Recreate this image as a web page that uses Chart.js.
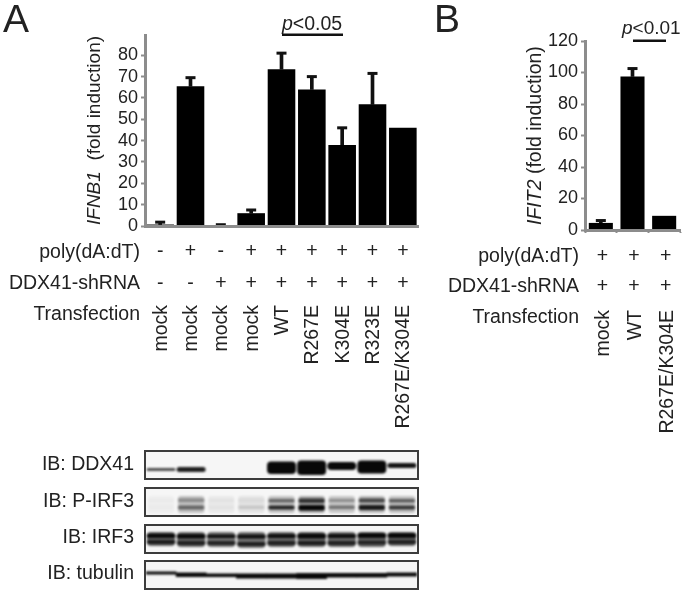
<!DOCTYPE html>
<html><head><meta charset="utf-8">
<style>
html,body{margin:0;padding:0;background:#fff;width:685px;height:594px;overflow:hidden}
canvas{position:absolute;display:block}
.main{filter:blur(0.4px)}
.box{position:absolute;left:144px;width:271px;height:26px;border:2px solid #3c3c3c;background:#f6f6f6;overflow:hidden}
.box canvas{left:0;top:0;filter:blur(1.1px)}
</style>
<script src="https://cdn.jsdelivr.net/npm/chart.js@4"></script>
</head><body>
<canvas id="ca" class="main" width="430" height="440" style="left:0;top:0"></canvas>
<canvas id="cb" class="main" width="255" height="440" style="left:430px;top:0"></canvas>
<canvas id="cl" class="main" width="144" height="150" style="left:0;top:444px"></canvas>
<div class="box" style="top:450px"><canvas id="b0" width="271" height="26"></canvas></div>
<div class="box" style="top:487px"><canvas id="b1" width="271" height="26"></canvas></div>
<div class="box" style="top:524px"><canvas id="b2" width="271" height="26"></canvas></div>
<div class="box" style="top:560px"><canvas id="b3" width="271" height="26"></canvas></div>
<script>
const FONT='"Liberation Sans", Arial, sans-serif';
const INK='#222222', AXIS='#8c8c8c';

// Panel A
const catsA=['mock','mock','mock','mock','WT','R267E','K304E','R323E','R267E/K304E'];
const valsA=[0.7,65.5,0.2,6,73.5,64,38,57,46];
const errA=[1.8,69.5,0.6,7.5,81,70,46,71.5,null];
const polyA=['-','+','-','+','+','+','+','+','+'];
const shA=['-','-','+','+','+','+','+','+','+'];
// Panel B
const catsB=['mock','WT','R267E/K304E'];
const valsB=[4.5,97.5,9];
const errB=[6,102.5,null];
const polyB=['+','+','+'];
const shB=['+','+','+'];
// Blots: lane values. y = depth in the membrane box, level = band darkness
const lanes=['1','2','3','4','5','6','7','8','9'];
const ddxTop=[16,15,0,0,9.5,8.5,10,8.5,11];
const ddxBot=[19,20,0,0,22,23,18,21.5,16];
const ddxLevel=[0.7,0.9,0,0,1,1,1,1,0.95];
const pSmearTop=[7,7,7,7,7,7,7,7,7];
const pSmearBot=[24,24,24,24,24,24,24,24,24];
const pSmearLevel=[0.03,0.22,0.05,0.08,0.22,0.3,0.2,0.25,0.22];
const pUpTop=[10,9.5,10,10,10,9.5,10,9.5,10];
const pUpBot=[13,13,13,13,13.5,14,13,13.5,13.5];
const pUpLevel=[0.02,0.3,0.03,0.05,0.5,0.75,0.3,0.65,0.55];
const pLoTop=[16.5,16.5,16.5,16.5,16.5,16,16.5,16,16.5];
const pLoBot=[20,20.5,20,20,20.5,21.5,20,21,20.5];
const pLoLevel=[0.02,0.5,0.03,0.13,0.85,1,0.45,0.9,0.75];
const iSmearTop=[6,6,6,6,6,6,6,6,6];
const iSmearBot=[20,21,21,22,21,21,21,21,20];
const iSmearLevel=[0.6,0.6,0.55,0.55,0.6,0.6,0.6,0.6,0.6];
const iUpTop=[7.5,8,8.5,8.5,8,7.5,8,7,7];
const iUpBot=[12,12.5,12,12.5,12,12.5,12,12,12];
const iUpLevel=[1,1,0.95,0.95,0.95,1,0.95,1,1];
const iLoTop=[14,15,15,16,15,15,15,14.5,14];
const iLoBot=[18,19,19,20,19,19,19,18.5,18];
const iLoLevel=[0.8,0.75,0.75,0.8,0.75,0.8,0.75,0.75,0.75];
const tubTop=[9.5,10.5,11.5,11.5,11.5,11,11,11,10.5];
const tubBot=[12.5,15,15,16.5,16.5,17,15.5,15.5,14.5];
const tubLevel=[1,1,1,1,1,1,1,1,1];

function txt(ctx,s,x,y,font,align,rot){
  ctx.save();ctx.fillStyle=INK;ctx.font=font;ctx.textAlign=align||'left';ctx.textBaseline='middle';
  ctx.translate(x,y);if(rot)ctx.rotate(rot);ctx.fillText(s,0,0);ctx.restore();
}
function mixed(ctx,x,y,parts,size,rot){
  ctx.save();ctx.fillStyle=INK;ctx.textBaseline='middle';ctx.textAlign='left';ctx.translate(x,y);if(rot)ctx.rotate(rot);
  let dx=0;for(const [s,it] of parts){ctx.font=(it?'italic ':'')+size+'px '+FONT;ctx.fillText(s,dx,0);dx+=ctx.measureText(s).width;}
  ctx.restore();
}
function panelChart(id,cats,vals,errs,o){
  return new Chart(document.getElementById(id),{
    type:'bar',
    data:{labels:cats,datasets:[
      {type:'line',data:errs,showLine:false,pointStyle:'line',pointRadius:o.cap,pointBorderWidth:3,pointBorderColor:'#111',pointBackgroundColor:'#111',order:0,clip:false},
      {data:vals,backgroundColor:'#000',barPercentage:o.bar,categoryPercentage:1,grouped:false,order:1},
      {data:errs.map((e,i)=>e==null?null:[vals[i],e]),backgroundColor:'#111',barThickness:3,grouped:false,order:2}
    ]},
    options:{
      responsive:false,animation:false,
      layout:{autoPadding:false,padding:{left:0,top:o.top,right:o.right,bottom:0}},
      plugins:{legend:{display:false},tooltip:{enabled:false}},
      scales:{
        x:{offset:true,
          grid:{display:o.xTicks,drawOnChartArea:false,drawTicks:o.xTicks,tickLength:3,color:AXIS,tickWidth:2,offset:true},
          border:{display:true,color:AXIS,width:3,z:1},
          afterFit:s=>{s.height=o.xh;s.paddingLeft=0;s.paddingRight=0;},
          ticks:{autoSkip:false,minRotation:90,maxRotation:90,padding:o.xpad,labelOffset:o.lab,color:INK,font:{family:FONT,size:19.5}}},
        y:{min:0,max:o.max,
          grid:{drawOnChartArea:false,drawTicks:true,tickLength:4,color:AXIS,tickWidth:2},
          border:{display:true,color:AXIS,width:3,z:1},
          afterFit:s=>{s.width=o.yw;s.paddingTop=0;s.paddingBottom=0;},
          ticks:{autoSkip:false,stepSize:o.step,includeBounds:false,padding:o.ypad,color:INK,font:{family:FONT,size:o.tickSize}}}
      }
    },
    plugins:[{id:'notes',afterDraw(c){o.draw(c.ctx,c.scales.x,c.chartArea)}}]
  });
}
function signs(ctx,x,arr,y,dx){arr.forEach((s,i)=>txt(ctx,s,x.getPixelForValue(i)+dx,y,'19.5px '+FONT,'center'));}

panelChart('ca',catsA,valsA,errA,{cap:5,bar:0.91,top:35,right:12,xh:214,yw:145,max:89.5,step:10,tickSize:18,ypad:3,xpad:79,lab:1,xTicks:false,
  draw(ctx,x){
    txt(ctx,'A',3,21,'39px '+FONT);
    mixed(ctx,95,225,[['IFNB1',true],['  (fold induction)',false]],19,-Math.PI/2);
    mixed(ctx,282,25,[['p',true],['<0.05',false]],19.5);
    ctx.fillStyle='#111';ctx.fillRect(282,33.5,61,2.5);
    txt(ctx,'poly(dA:dT)',140,253,'19.5px '+FONT,'right');
    txt(ctx,'DDX41-shRNA',140,284,'19.5px '+FONT,'right');
    txt(ctx,'Transfection',140,315,'19.5px '+FONT,'right');
    signs(ctx,x,polyA,252,0);signs(ctx,x,shA,284,0);
  }});
panelChart('cb',catsB,valsB,errB,{cap:5,bar:0.76,top:41,right:5,xh:210,yw:155,max:120,step:20,tickSize:18,ypad:3,xpad:77,lab:3,xTicks:true,
  draw(ctx,x){
    txt(ctx,'B',4,21,'39px '+FONT);
    mixed(ctx,106,225,[['IFIT2',true],[' (fold induction)',false]],19.5,-Math.PI/2);
    mixed(ctx,192,29,[['p',true],['<0.01',false]],19);
    ctx.fillStyle='#111';ctx.fillRect(203,39.5,33,2.5);
    txt(ctx,'poly(dA:dT)',149,257,'19.5px '+FONT,'right');
    txt(ctx,'DDX41-shRNA',149,287,'19.5px '+FONT,'right');
    txt(ctx,'Transfection',149,318,'19.5px '+FONT,'right');
    signs(ctx,x,polyB,257,1.5);signs(ctx,x,shB,287,1.5);
  }});
new Chart(document.getElementById('cl'),{type:'bar',data:{labels:[],datasets:[]},
  options:{responsive:false,animation:false,plugins:{legend:{display:false}},scales:{x:{display:false},y:{display:false}}},
  plugins:[{id:'names',afterDraw(c){const f='19.5px '+FONT,t=c.ctx;
    txt(t,'IB: DDX41',134,21,f,'right');txt(t,'IB: P-IRF3',134,58,f,'right');
    txt(t,'IB: IRF3',134,94,f,'right');txt(t,'IB: tubulin',134,130,f,'right');}}]
});
function band(top,bot,level,w,r){
  return {data:top.map((t,i)=>level[i]>0?[t,bot[i]]:null),
    backgroundColor:level.map(l=>`rgba(8,8,8,${l})`),
    barPercentage:w,categoryPercentage:1,grouped:false,borderRadius:r,borderSkipped:false};
}
function blot(id,bands){
  new Chart(document.getElementById(id),{type:'bar',data:{labels:lanes,datasets:bands},
    options:{responsive:false,animation:false,layout:{autoPadding:false,padding:0},
      plugins:{legend:{display:false},tooltip:{enabled:false}},
      scales:{x:{display:false,offset:true},y:{display:false,min:0,max:26,reverse:true}}}});
}
blot('b0',[band(ddxTop,ddxBot,ddxLevel,0.96,4)]);
blot('b1',[band(pSmearTop,pSmearBot,pSmearLevel,0.88,3),band(pUpTop,pUpBot,pUpLevel,0.88,2),band(pLoTop,pLoBot,pLoLevel,0.88,2)]);
blot('b2',[band(iSmearTop,iSmearBot,iSmearLevel,0.94,4),band(iUpTop,iUpBot,iUpLevel,0.96,2),band(iLoTop,iLoBot,iLoLevel,0.96,2)]);
blot('b3',[band(tubTop,tubBot,tubLevel,1.02,0)]);
</script>
</body></html>
